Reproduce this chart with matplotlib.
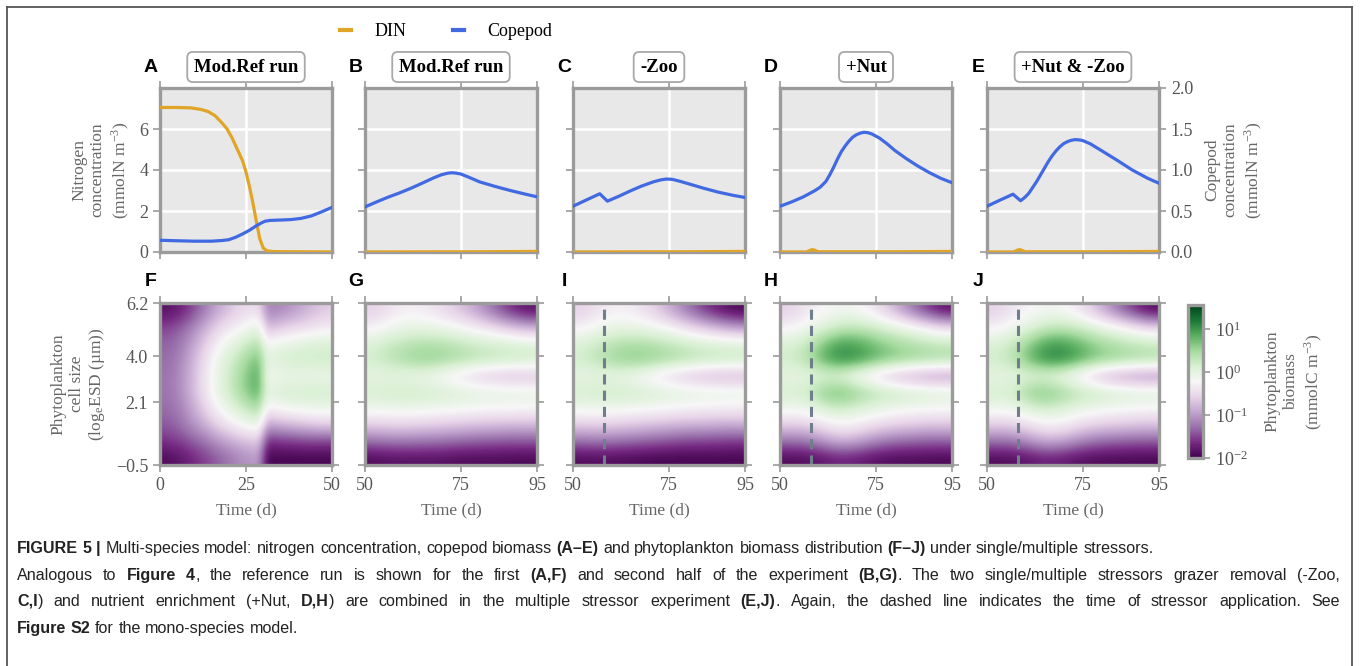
import matplotlib
matplotlib.use('Agg')
import numpy as np
import matplotlib.pyplot as plt
from matplotlib.lines import Line2D
from matplotlib.cm import ScalarMappable
from matplotlib.font_manager import FontProperties

plt.rcParams['font.family'] = 'Liberation Serif'
plt.rcParams['mathtext.fontset'] = 'stix'

# ---------------- data ----------------
# top row: DIN (mmolN m-3, left axis) and copepod (mmolN m-3, right axis)
t_din_A = [0, 5, 9, 12, 14, 16, 18, 19.5, 21, 22.5, 24, 25, 26, 27, 28, 29, 30, 31, 33, 40, 50]
din_A = [7.05, 7.05, 7.03, 6.95, 6.85, 6.65, 6.3, 6.0, 5.55, 5.0, 4.45, 3.9, 3.2, 2.4, 1.5, 0.65, 0.2, 0.06, 0.02, 0.01, 0.0]
t_cop_A = [0, 5, 10, 15, 18, 20, 22, 24, 26, 28, 29.5, 30.5, 32, 35, 38, 41, 44, 47, 50]
cop_A = [0.143, 0.137, 0.132, 0.132, 0.14, 0.15, 0.18, 0.22, 0.265, 0.32, 0.355, 0.375, 0.385, 0.39, 0.395, 0.41, 0.44, 0.49, 0.545]

t_din_B = [50, 80, 95]
din_B = [0.0, 0.01, 0.03]
t_cop_B = [50, 53, 56, 59, 62, 65, 68, 70, 71.5, 72.5, 73.5, 75, 77, 80, 84, 88, 92, 95]
cop_B = [0.55, 0.61, 0.668, 0.72, 0.777, 0.84, 0.905, 0.942, 0.96, 0.966, 0.964, 0.952, 0.915, 0.855, 0.8, 0.75, 0.705, 0.673]

t_din_C = [50, 80, 95]
din_C = [0.0, 0.01, 0.03]
t_cop_C = [50, 53, 57, 59, 62, 65, 68, 71, 73, 74.5, 76, 78, 80, 84, 88, 92, 95]
cop_C = [0.558, 0.624, 0.71, 0.62, 0.68, 0.745, 0.805, 0.855, 0.88, 0.89, 0.886, 0.862, 0.835, 0.78, 0.73, 0.69, 0.665]

t_din_D = [50, 57, 57.8, 58.5, 59.2, 60, 80, 95]
din_D = [0.0, 0.0, 0.08, 0.12, 0.08, 0.01, 0.01, 0.03]
t_cop_D = [50, 53, 56, 59, 60.5, 62, 63, 64, 65, 66, 67, 68, 69, 70, 71, 72, 73, 74, 75, 76, 78, 80, 83, 86, 89, 92, 95]
cop_D = [0.558, 0.61, 0.67, 0.745, 0.79, 0.86, 0.94, 1.03, 1.13, 1.22, 1.29, 1.35, 1.4, 1.43, 1.45, 1.46, 1.455, 1.44, 1.415, 1.39, 1.32, 1.24, 1.14, 1.05, 0.97, 0.9, 0.845]

t_din_E = [50, 57, 57.8, 58.5, 59.2, 60, 80, 95]
din_E = [0.0, 0.0, 0.08, 0.12, 0.08, 0.01, 0.01, 0.03]
t_cop_E = [50, 53, 56.8, 58.8, 60, 61, 62, 63, 64, 65, 66, 67, 68, 69, 70, 71, 72, 73, 74, 75, 77, 80, 84, 88, 92, 95]
cop_E = [0.558, 0.624, 0.705, 0.625, 0.67, 0.72, 0.79, 0.86, 0.94, 1.02, 1.1, 1.17, 1.23, 1.28, 1.32, 1.345, 1.362, 1.37, 1.368, 1.36, 1.32, 1.235, 1.12, 1.0, 0.9, 0.838]

# bottom row: log10 phytoplankton biomass (mmolC m-3)
# rows: cell size from top (6.2) to bottom (-0.5); columns: time
bio_F = [  # days 0-50, 2.5 d steps
    [-1.85, -1.8, -1.7, -1.55, -1.35, -1.15, -0.95, -0.8, -0.65, -0.55, -0.5, -0.5, -1.15, -1.15, -1.1, -1.0, -0.9, -0.8, -0.7, -0.65],
    [-1.5, -1.45, -1.35, -1.2, -1.0, -0.8, -0.6, -0.45, -0.35, -0.25, -0.1, 0.0, -0.75, -0.7, -0.6, -0.55, -0.5, -0.45, -0.4, -0.35],
    [-1.35, -1.3, -1.2, -1.0, -0.8, -0.55, -0.35, -0.15, 0.0, 0.12, 0.28, 0.35, -0.2, -0.1, -0.05, 0.0, 0.05, 0.08, 0.1, 0.1],
    [-1.3, -1.25, -1.1, -0.9, -0.65, -0.4, -0.15, 0.05, 0.22, 0.4, 0.58, 0.68, 0.05, 0.1, 0.15, 0.18, 0.2, 0.2, 0.22, 0.22],
    [-1.25, -1.2, -1.05, -0.85, -0.6, -0.35, -0.1, 0.1, 0.3, 0.5, 0.72, 0.82, -0.15, -0.15, -0.1, -0.1, -0.1, -0.1, -0.12, -0.12],
    [-1.25, -1.2, -1.05, -0.85, -0.6, -0.35, -0.1, 0.1, 0.3, 0.5, 0.7, 0.78, 0.05, 0.1, 0.15, 0.15, 0.18, 0.18, 0.18, 0.18],
    [-1.3, -1.25, -1.15, -0.95, -0.75, -0.5, -0.3, -0.1, 0.05, 0.2, 0.35, 0.42, -0.3, -0.2, -0.15, -0.1, -0.1, -0.08, -0.08, -0.08],
    [-1.4, -1.35, -1.25, -1.1, -0.95, -0.8, -0.6, -0.45, -0.3, -0.2, -0.1, -0.05, -0.9, -0.85, -0.8, -0.75, -0.7, -0.65, -0.6, -0.6],
    [-1.6, -1.55, -1.5, -1.4, -1.3, -1.2, -1.05, -0.95, -0.85, -0.75, -0.7, -0.65, -1.6, -1.6, -1.55, -1.55, -1.5, -1.5, -1.5, -1.5],
    [-1.9, -1.85, -1.8, -1.7, -1.6, -1.5, -1.4, -1.3, -1.2, -1.1, -1.05, -1.0, -1.95, -1.95, -1.95, -1.95, -1.95, -1.95, -1.95, -1.95],
]
bio_G = [  # days 50-95, 4.5 d steps
    [-0.6, -0.4, -0.3, -0.35, -0.5, -0.7, -0.95, -1.3, -1.65, -1.85],
    [-0.3, -0.15, -0.05, -0.05, -0.1, -0.2, -0.35, -0.5, -0.7, -0.85],
    [0.1, 0.25, 0.35, 0.4, 0.38, 0.3, 0.2, 0.15, 0.1, 0.05],
    [0.2, 0.35, 0.5, 0.6, 0.55, 0.45, 0.35, 0.3, 0.25, 0.22],
    [-0.05, -0.05, -0.1, -0.15, -0.3, -0.5, -0.65, -0.75, -0.8, -0.8],
    [0.15, 0.2, 0.22, 0.2, 0.15, 0.1, 0.05, 0.03, 0.0, 0.0],
    [-0.1, -0.08, -0.08, -0.1, -0.12, -0.15, -0.18, -0.2, -0.2, -0.22],
    [-0.6, -0.55, -0.55, -0.58, -0.62, -0.65, -0.7, -0.72, -0.75, -0.75],
    [-1.25, -1.2, -1.2, -1.22, -1.25, -1.3, -1.35, -1.38, -1.4, -1.4],
    [-1.9, -1.85, -1.85, -1.85, -1.85, -1.9, -1.9, -1.9, -1.92, -1.92],
]
bio_I = [
    [-0.6, -0.4, -0.3, -0.35, -0.55, -0.85, -1.2, -1.55, -1.8, -1.95],
    [-0.3, -0.15, -0.05, -0.05, -0.12, -0.25, -0.45, -0.65, -0.85, -1.0],
    [0.1, 0.25, 0.38, 0.42, 0.4, 0.3, 0.2, 0.12, 0.08, 0.05],
    [0.2, 0.35, 0.55, 0.65, 0.6, 0.5, 0.4, 0.33, 0.28, 0.25],
    [-0.05, -0.05, -0.1, -0.2, -0.4, -0.6, -0.75, -0.85, -0.9, -0.9],
    [0.15, 0.2, 0.22, 0.2, 0.15, 0.1, 0.05, 0.02, 0.0, -0.02],
    [-0.1, -0.1, -0.12, -0.15, -0.18, -0.22, -0.25, -0.28, -0.3, -0.3],
    [-0.6, -0.58, -0.6, -0.65, -0.7, -0.75, -0.8, -0.82, -0.85, -0.85],
    [-1.25, -1.22, -1.25, -1.3, -1.35, -1.42, -1.48, -1.5, -1.52, -1.55],
    [-1.9, -1.88, -1.9, -1.92, -1.95, -1.95, -1.95, -1.95, -1.95, -1.95],
]
bio_H = [
    [-0.6, -0.4, -0.25, -0.15, -0.2, -0.4, -0.75, -1.15, -1.55, -1.85],
    [-0.3, -0.15, 0.05, 0.25, 0.3, 0.2, 0.05, -0.1, -0.3, -0.5],
    [0.1, 0.25, 0.65, 0.95, 0.9, 0.7, 0.52, 0.42, 0.32, 0.27],
    [0.2, 0.35, 0.85, 1.12, 1.05, 0.85, 0.68, 0.58, 0.52, 0.47],
    [-0.05, -0.05, 0.0, -0.05, -0.3, -0.6, -0.85, -1.0, -1.1, -1.15],
    [0.15, 0.2, 0.65, 0.8, 0.6, 0.42, 0.3, 0.22, 0.16, 0.13],
    [-0.1, -0.1, 0.12, 0.22, 0.1, -0.02, -0.1, -0.15, -0.18, -0.2],
    [-0.6, -0.58, -0.4, -0.25, -0.3, -0.45, -0.55, -0.6, -0.65, -0.65],
    [-1.25, -1.22, -1.0, -0.8, -0.9, -1.1, -1.25, -1.3, -1.35, -1.35],
    [-1.9, -1.88, -1.8, -1.7, -1.75, -1.85, -1.9, -1.9, -1.92, -1.92],
]
bio_J = [
    [-0.6, -0.4, -0.25, -0.15, -0.22, -0.45, -0.8, -1.2, -1.6, -1.9],
    [-0.3, -0.15, 0.05, 0.25, 0.3, 0.2, 0.03, -0.15, -0.35, -0.55],
    [0.1, 0.25, 0.6, 0.95, 0.95, 0.75, 0.52, 0.4, 0.3, 0.24],
    [0.2, 0.35, 0.8, 1.12, 1.12, 0.88, 0.68, 0.57, 0.5, 0.44],
    [-0.05, -0.05, 0.0, -0.05, -0.2, -0.5, -0.85, -1.05, -1.15, -1.2],
    [0.15, 0.2, 0.62, 0.72, 0.52, 0.36, 0.26, 0.18, 0.12, 0.1],
    [-0.1, -0.1, 0.1, 0.2, 0.08, -0.05, -0.12, -0.16, -0.2, -0.22],
    [-0.6, -0.58, -0.42, -0.28, -0.32, -0.48, -0.58, -0.62, -0.66, -0.68],
    [-1.25, -1.22, -1.02, -0.82, -0.92, -1.12, -1.27, -1.32, -1.36, -1.38],
    [-1.9, -1.88, -1.8, -1.72, -1.77, -1.87, -1.9, -1.92, -1.93, -1.93],
]

top_letters = ['A', 'B', 'C', 'D', 'E']
top_titles = ['Mod.Ref run', 'Mod.Ref run', '-Zoo', '+Nut', '+Nut & -Zoo']
bottom_letters = ['F', 'G', 'I', 'H', 'J']
stressor_day = 58
size_ticks = [-0.5, 2.1, 4.0, 6.2]
size_labels = ['\u22120.5', '2.1', '4.0', '6.2']
cbar_ticks = [-2, -1, 0, 1]
cbar_labels = ['$\\mathregular{10^{-2}}$', '$\\mathregular{10^{-1}}$',
               '$\\mathregular{10^{0}}$', '$\\mathregular{10^{1}}$']

din_t = [t_din_A, t_din_B, t_din_C, t_din_D, t_din_E]
din_v = [din_A, din_B, din_C, din_D, din_E]
cop_t = [t_cop_A, t_cop_B, t_cop_C, t_cop_D, t_cop_E]
cop_v = [cop_A, cop_B, cop_C, cop_D, cop_E]
bios = [bio_F, bio_G, bio_I, bio_H, bio_J]
has_stressor = [False, False, True, True, True]

# ---------------- figure ----------------
W, H = 1360, 666
fig = plt.figure(figsize=(13.6, 6.66), dpi=100)


def px(x0, y0, x1, y1):
    return [x0 / W, 1 - y1 / H, (x1 - x0) / W, (y1 - y0) / H]


SPINE = '#9b9b9b'
LAB = '#666666'
DIN_C = '#e0a526'
COP_C = '#4169e1'
lefts = [160, 365, 573, 780, 987]
aw = 172
norm = plt.Normalize(-2, 1.56)
TICK_FS = 13


def style(ax):
    for s in ax.spines.values():
        s.set_color(SPINE)
        s.set_linewidth(2.4)
    ax.tick_params(which='both', direction='out', length=5, width=1.2, color=SPINE,
                   labelcolor='#555555', labelsize=TICK_FS, top=True, right=True)


for i in range(5):
    first = i == 0
    xlim = (0, 50) if first else (50, 95)
    xt = [0, 25, 50] if first else [50, 75, 95]

    ax = fig.add_axes(px(lefts[i], 88, lefts[i] + aw, 252))
    ax.set_facecolor('#e8e8e8')
    ax.plot(din_t[i], din_v[i], color=DIN_C, lw=2.3, zorder=3)
    ax.set_xlim(xlim)
    ax.set_ylim(0, 8)
    ax.set_xticks(xt)
    ax.set_yticks([0, 2, 4, 6])
    ax.grid(True, color='white', lw=1.8)
    ax.set_axisbelow(True)
    style(ax)
    ax.tick_params(labelbottom=False, labelleft=first, right=(i < 4))
    if first:
        ax.set_ylabel('Nitrogen\nconcentration\n(mmolN m$^{\\mathregular{-3}}$)',
                      color=LAB, fontsize=12.5, labelpad=6)
    ax.text(-9 / aw, 1 + 21 / 164, top_letters[i], transform=ax.transAxes,
            family='Liberation Sans', fontweight='bold', fontsize=14,
            ha='center', va='center')
    ax.text(0.5, 1 + 21 / 164, top_titles[i], transform=ax.transAxes,
            fontweight='bold', fontsize=13.5, ha='center', va='center',
            bbox=dict(boxstyle='round,pad=0.35,rounding_size=0.3', fc='white',
                      ec='#a8a8a8', lw=1.3))

    tw = ax.twinx()
    tw.plot(cop_t[i], cop_v[i], color=COP_C, lw=2.3)
    tw.set_xlim(xlim)
    tw.set_ylim(0, 2)
    tw.set_yticks([0, 0.5, 1.0, 1.5, 2.0])
    for s in tw.spines.values():
        s.set_visible(False)
    tw.tick_params(direction='out', length=5, width=1.2, color=SPINE,
                   labelcolor='#555555', labelsize=TICK_FS)
    if i < 4:
        tw.tick_params(right=False, labelright=False)
    else:
        tw.set_yticklabels(['0.0', '0.5', '1.0', '1.5', '2.0'])
        tw.set_ylabel('Copepod\nconcentration\n(mmolN m$^{\\mathregular{-3}}$)',
                      color=LAB, fontsize=12.5, labelpad=8)

    # heatmap row
    bx = fig.add_axes(px(lefts[i], 303, lefts[i] + aw, 465))
    bx.imshow(np.array(bios[i]), cmap='PRGn', norm=norm, aspect='auto',
              extent=[xlim[0], xlim[1], -0.5, 6.2], origin='upper',
              interpolation='bicubic', interpolation_stage='data')
    if has_stressor[i]:
        bx.axvline(stressor_day, color='#6e7e8b', lw=2.2, ls=(0, (3.3, 2.0)))
    bx.set_xlim(xlim)
    bx.set_ylim(-0.5, 6.2)
    bx.set_xticks(xt)
    bx.set_yticks(size_ticks)
    bx.set_yticklabels(size_labels)
    style(bx)
    bx.tick_params(labelleft=first)
    bx.set_xlabel('Time (d)', color=LAB, fontsize=12.5, labelpad=6)
    if first:
        bx.set_ylabel('Phytoplankton\ncell size\n(log$_{\\mathregular{e}}$ESD (\u00b5m))',
                      color=LAB, fontsize=12.5, labelpad=6)
    bx.text(-9 / aw, 1 + 22 / 162, bottom_letters[i], transform=bx.transAxes,
            family='Liberation Sans', fontweight='bold', fontsize=14,
            ha='center', va='center')

# colorbar
cax = fig.add_axes(px(1188, 305, 1203, 458))
cb = fig.colorbar(ScalarMappable(norm=norm, cmap='PRGn'), cax=cax, ticks=cbar_ticks)
cb.ax.set_yticklabels(cbar_labels)
cb.outline.set_edgecolor(SPINE)
cb.outline.set_linewidth(2.4)
cb.ax.tick_params(length=5, width=1.2, color=SPINE, labelcolor='#555555', labelsize=TICK_FS)
cb.set_label('Phytoplankton\nbiomass\n(mmolC m$^{\\mathregular{-3}}$)', color=LAB,
             fontsize=12.5, labelpad=12)

# legend
handles = [Line2D([], [], color=DIN_C, lw=3), Line2D([], [], color=COP_C, lw=3)]
fig.legend(handles, ['DIN', 'Copepod'], loc='center', bbox_to_anchor=(446 / W, 1 - 32 / H),
           ncol=2, frameon=False, fontsize=13, handlelength=0.6, handletextpad=1.3,
           columnspacing=2.6)

# frame around the figure block
for xs, ys in [([7, 7], [7, H]), ([7, 1352], [7, 7]), ([1352, 1352], [7, H])]:
    fig.add_artist(Line2D([x / W for x in xs], [1 - y / H for y in ys],
                          transform=fig.transFigure, color='#555555', lw=1.3))

# caption with bold fragments
cap_lines = [
    [("FIGURE 5 |", True), (" Multi-species model: nitrogen concentration, copepod biomass ", False),
     ("(A\u2013E)", True), (" and phytoplankton biomass distribution ", False), ("(F\u2013J)", True),
     (" under single/multiple stressors.", False)],
    [("Analogous to ", False), ("Figure 4", True), (", the reference run is shown for the first ", False),
     ("(A,F)", True), (" and second half of the experiment ", False), ("(B,G)", True),
     (". The two single/multiple stressors grazer removal (-Zoo,", False)],
    [("C,I", True), (") and nutrient enrichment (+Nut, ", False), ("D,H", True),
     (") are combined in the multiple stressor experiment ", False), ("(E,J)", True),
     (". Again, the dashed line indicates the time of stressor application. See", False)],
    [("Figure S2", True), (" for the mono-species model.", False)],
]
cap_justify = [False, True, True, False]
cap_base = [553, 580, 606, 633]
cap_size = 11.6
renderer = fig.canvas.get_renderer()
fp = {b: FontProperties(family='Liberation Sans', weight='bold' if b else 'normal', size=cap_size)
      for b in (True, False)}


def tw_(s, b):
    return renderer.get_text_width_height_descent(s, fp[b], ismath=False)[0]


def adv(s, b):
    # advance width of a word, padded so side bearings count
    return tw_('x' + s + 'x', b) - tw_('xx', b)


space_w = {b: tw_('x x', b) - tw_('xx', b) for b in (True, False)}

for parts, just, yb in zip(cap_lines, cap_justify, cap_base):
    tokens = []
    for txt, b in parts:
        for j, w in enumerate(txt.split(' ')):
            if j > 0:
                tokens.append((' ', b))
            if w:
                tokens.append((w, b))
    widths = [space_w[b] if w == ' ' else adv(w, b) for w, b in tokens]
    nsp = sum(1 for w, b in tokens if w == ' ')
    extra = max(0.0, (1340 - 17 - sum(widths)) / nsp) if just else 0
    x = 17
    for (w, b), wd in zip(tokens, widths):
        if w == ' ':
            x += wd + extra
        else:
            fig.text(x / W, 1 - yb / H, w, fontproperties=fp[b], color='#222222', va='baseline')
            x += wd

fig.savefig('out.png', dpi=100)
